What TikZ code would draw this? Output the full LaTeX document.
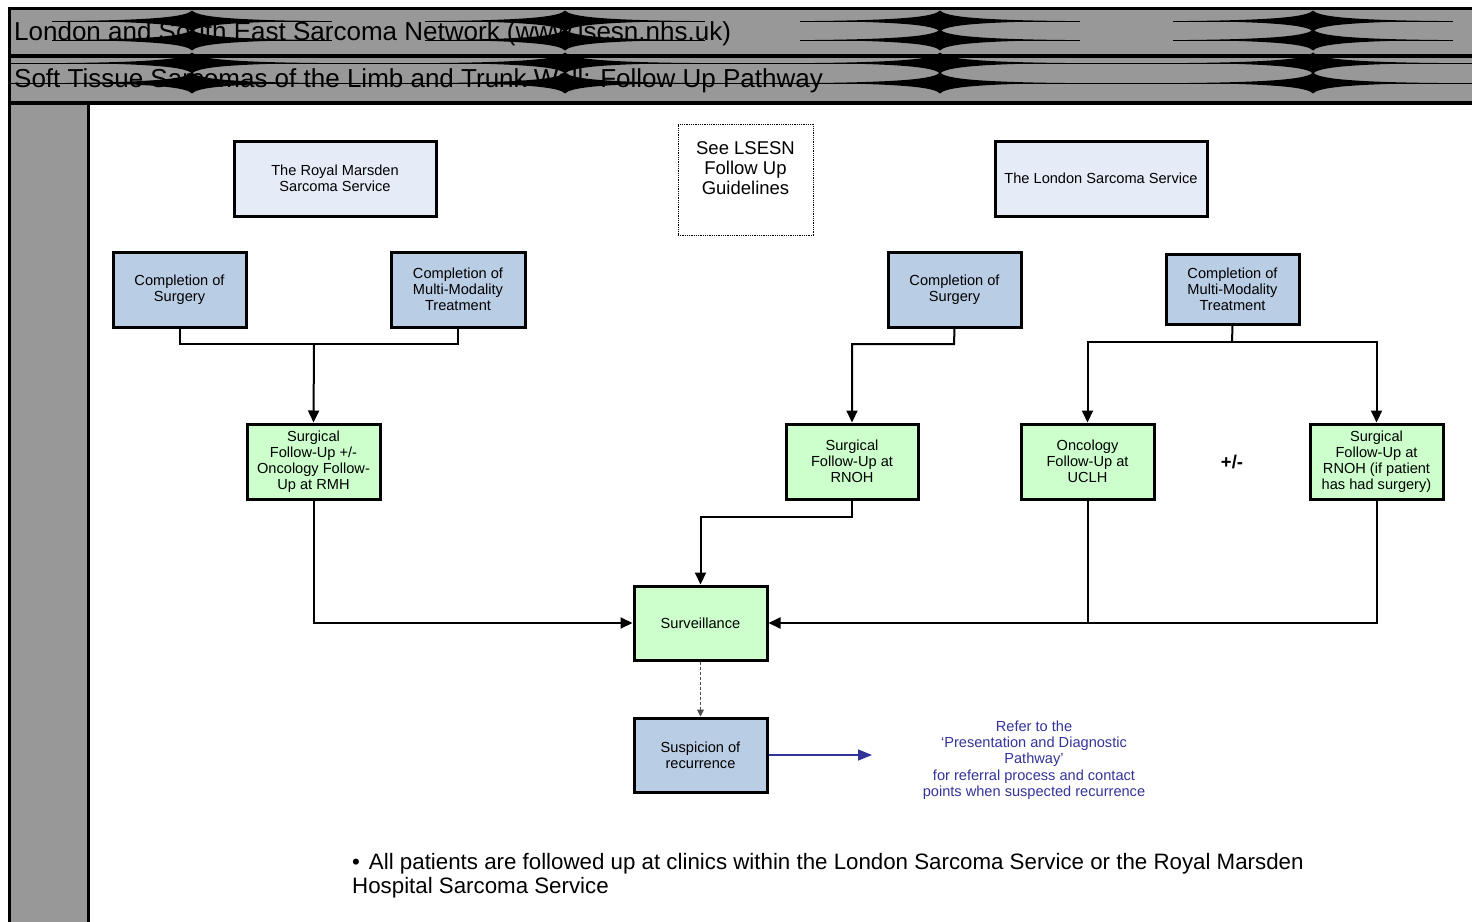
\documentclass[tikz,border=0pt]{standalone}
\usepackage{fontspec}
\setmainfont{Liberation Sans}
\usetikzlibrary{arrows.meta}
\definecolor{hdrgray}{HTML}{989898}
\definecolor{lightblue}{HTML}{E6ECF7}
\definecolor{midblue}{HTML}{B9CDE5}
\definecolor{palegreen}{HTML}{CCFFCC}
\definecolor{navy}{HTML}{333399}
\tikzset{
  box/.style={draw=black, line width=3pt, align=center, inner sep=2pt,
    font=\fontsize{14.6}{16}\selectfont},
  topbox/.style={box, fill=lightblue},
  compbox/.style={box, fill=midblue},
  greenbox/.style={box, fill=palegreen},
  conn/.style={line width=2pt},
  arr/.style={conn, -{Triangle[length=12pt,width=11pt]}},
}
\begin{document}
\begin{tikzpicture}[x=1pt,y=-1pt]
\useasboundingbox (0,0) rectangle (1472,921);
% header and side column
\fill[hdrgray] (8,8) rectangle (1480,103);
\fill[hdrgray] (8,103) rectangle (88,930);
\node[anchor=base west, font=\fontsize{26}{30}\selectfont, inner sep=0] (h1) at (14,40) {London and South East Sarcoma Network (www.lsesn.nhs.uk)};
\node[anchor=base west, font=\fontsize{26}{30}\selectfont, inner sep=0] (h2) at (14,87) {Soft Tissue Sarcomas of the Limb and Trunk Wall: Follow Up Pathway};
% lens artefacts
\foreach \cy in {63,83} \draw[line width=1pt] (8,\cy) -- (1480,\cy);
\foreach \cx in {192,565,940,1313}{
  \foreach \cy in {21,40,63,83}{
    \draw[line width=0.8pt] (\cx-140,\cy) -- (\cx+140,\cy);
    \fill (\cx-125,\cy) .. controls (\cx-30,\cy-1) and (\cx-5,\cy-5) .. (\cx,\cy-10.5)
      .. controls (\cx+5,\cy-5) and (\cx+30,\cy-1) .. (\cx+125,\cy)
      .. controls (\cx+30,\cy+1) and (\cx+5,\cy+5) .. (\cx,\cy+10.5)
      .. controls (\cx-5,\cy+5) and (\cx-30,\cy+1) .. (\cx-125,\cy) -- cycle;
  }
}
\draw[line width=3pt] (8,8) -- (1480,8);
\draw[line width=4pt] (8,55.5) -- (1480,55.5);
\draw[line width=4pt] (8,103) -- (1480,103);
\draw[line width=3pt] (9.5,8) -- (9.5,930);
\draw[line width=3pt] (88,103) -- (88,930);
% boxes
\node[topbox, minimum width=202pt, minimum height=75pt] (rm) at (335,178.5) {The Royal Marsden\\Sarcoma Service};
\node[topbox, minimum width=212pt, minimum height=75pt] (ls) at (1101,178.5) {The London Sarcoma Service};
\node[draw=black, densely dotted, line width=0.8pt, minimum width=135pt, minimum height=111pt] (see) at (745.5,179.5) {};
\node[align=center, font=\fontsize{18.5}{20}\selectfont] (seetxt) at (745.5,168) {See LSESN\\Follow Up\\Guidelines};
\node[compbox, minimum width=133pt, minimum height=75pt] (csl) at (179.5,289.5) {Completion of\\Surgery};
\node[compbox, minimum width=134pt, minimum height=75pt] (cml) at (458,289.5) {Completion of\\Multi-Modality\\Treatment};
\node[compbox, minimum width=133pt, minimum height=75pt] (csr) at (954.5,289.5) {Completion of\\Surgery};
\node[compbox, minimum width=133pt, minimum height=70pt] (cmr) at (1232.5,289) {Completion of\\Multi-Modality\\Treatment};
\node[greenbox, minimum width=133pt, minimum height=75pt] (rmh) at (313.5,461.5) {Surgical\\Follow-Up +/-\\Oncology Follow-\\Up at RMH};
\node[greenbox, minimum width=132pt, minimum height=75pt] (rnoh) at (852,461.5) {Surgical\\Follow-Up at\\RNOH};
\node[greenbox, minimum width=133pt, minimum height=75pt] (uclh) at (1087.5,461.5) {Oncology\\Follow-Up at\\UCLH};
\node[greenbox, minimum width=133pt, minimum height=75pt] (rnoh2) at (1376.5,461.5) {Surgical\\Follow-Up at\\RNOH (if patient\\has had surgery)};
\node[greenbox, minimum width=133pt, minimum height=74pt] (surv) at (700.5,623) {Surveillance};
\node[compbox, minimum width=133pt, minimum height=74pt] (susp) at (700.5,755) {Suspicion of\\recurrence};
\node[font=\fontsize{18.5}{20}\selectfont\bfseries] (pm) at (1232,461.5) {+/-};
\node[text=navy, align=center, font=\fontsize{14.6}{16.3}\selectfont] (refer) at (1034,760) {Refer to the\\‘Presentation and Diagnostic\\Pathway’\\for referral process and contact\\points when suspected recurrence};
\node[anchor=base west, inner sep=0, font=\fontsize{22.3}{24}\selectfont] (b1) at (352,869) {•\hspace{9pt}All patients are followed up at clinics within the London Sarcoma Service or the Royal Marsden};
\node[anchor=base west, inner sep=0, font=\fontsize{22.3}{24}\selectfont] (b2) at (352,893) {Hospital Sarcoma Service};
% connectors
\coordinate (jl) at (314,344);
\coordinate (jr) at (954,344);
\coordinate (jr2) at (1232,342);
\coordinate (js) at (852,517);
\coordinate (rend) at (872,755);
\draw[conn] (csl.south) |- (cml.south |- jl) -- (cml.south);
\draw[arr] (jl) -- (rmh.north);
\draw[arr] (csr.south) -- (jr) -| (rnoh.north);
\draw[conn] (cmr.south) -- (jr2);
\draw[arr] (jr2) -| (uclh.north);
\draw[arr] (jr2) -| (rnoh2.north);
\draw[arr] (rmh.south) |- (surv.west);
\draw[arr] (rnoh.south) -- (js) -| (surv.north);
\draw[conn] (uclh.south) -- (uclh.south |- surv.east);
\draw[arr] (rnoh2.south) |- (surv.east);
\draw[line width=1pt, densely dashed, black!70, -{Triangle[length=7pt,width=7pt]}] (surv.south) -- (susp.north);
\draw[line width=1.4pt, navy, -{Triangle[length=14pt,width=11pt]}] (susp.east) -- (rend);
\end{tikzpicture}
\end{document}
